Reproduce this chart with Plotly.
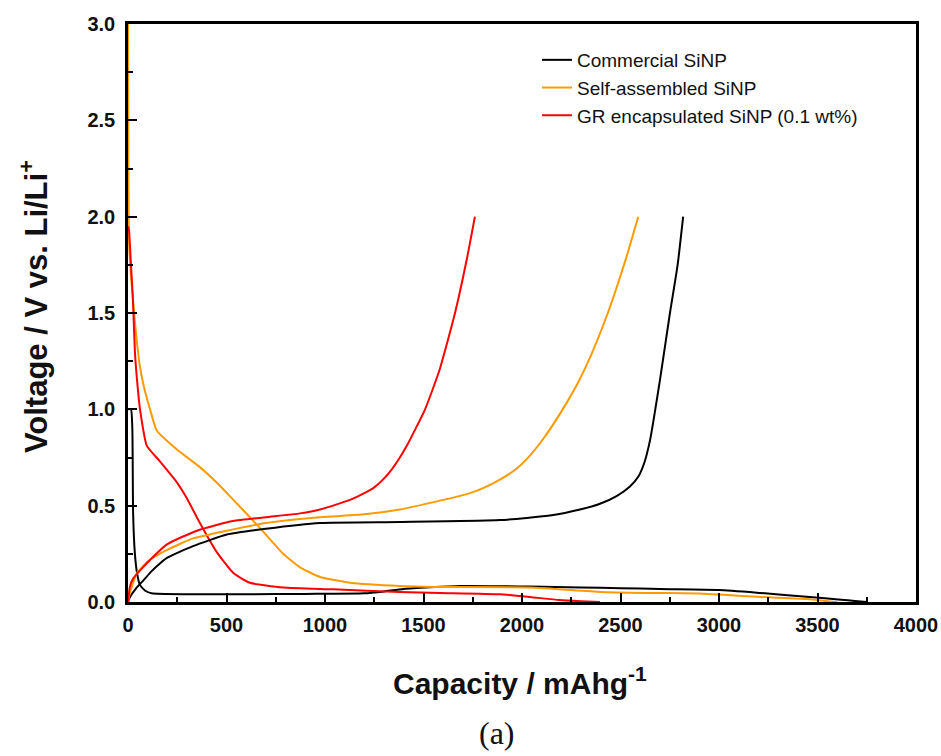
import plotly.graph_objects as go

# ---- data ----
names = ["Commercial SiNP", "Self-assembled SiNP", "GR encapsulated SiNP (0.1 wt%)"]
colors = ["#000000", "#FF9A00", "#FF0000"]

# Commercial SiNP
com_dis_x = [0, 15, 22, 26, 35, 46, 60, 86, 120, 300, 600, 900, 1200, 1300, 1400, 1685, 2040, 2300, 2500, 2700, 3000, 3208, 3460, 3620, 3690, 3750]
com_dis_v = [1.0, 1.0, 0.9, 0.46, 0.25, 0.15, 0.09, 0.06, 0.045, 0.04, 0.04, 0.042, 0.045, 0.055, 0.068, 0.083, 0.08, 0.075, 0.072, 0.067, 0.062, 0.047, 0.026, 0.012, 0.005, 0.0]
com_chg_x = [0, 10, 40, 76, 120, 162, 200, 330, 502, 700, 975, 1380, 1888, 2150, 2294, 2396, 2480, 2548, 2590, 2620, 2650, 2700, 2751, 2790, 2818]
com_chg_v = [0.0, 0.026, 0.07, 0.11, 0.16, 0.2, 0.23, 0.29, 0.35, 0.38, 0.41, 0.415, 0.425, 0.45, 0.48, 0.51, 0.55, 0.6, 0.65, 0.72, 0.84, 1.15, 1.5, 1.75, 2.0]

# Self-assembled SiNP
sa_dis_x = [0, 2, 6, 15, 25, 40, 61, 80, 112, 146, 250, 365, 450, 535, 619, 700, 788, 873, 975, 1041, 1127, 1380, 1548, 2040, 2400, 2650, 2900, 3208, 3450, 3563, 3600]
sa_dis_v = [3.0, 2.2, 1.85, 1.7, 1.57, 1.4, 1.22, 1.12, 1.0, 0.89, 0.79, 0.70, 0.62, 0.53, 0.44, 0.35, 0.25, 0.18, 0.13, 0.115, 0.10, 0.083, 0.078, 0.075, 0.052, 0.047, 0.044, 0.026, 0.015, 0.003, 0.0]
sa_chg_x = [0, 10, 46, 100, 198, 330, 502, 700, 975, 1200, 1380, 1600, 1720, 1800, 1888, 1970, 2040, 2110, 2170, 2230, 2290, 2350, 2410, 2470, 2530, 2590]
sa_chg_v = [0.0, 0.05, 0.15, 0.21, 0.27, 0.33, 0.37, 0.41, 0.44, 0.455, 0.48, 0.53, 0.56, 0.59, 0.635, 0.69, 0.76, 0.85, 0.94, 1.04, 1.15, 1.28, 1.43, 1.6, 1.79, 2.0]

# GR encapsulated SiNP (0.1 wt%)
gr_dis_x = [0, 5, 15, 25, 35, 46, 61, 96, 162, 249, 298, 365, 450, 535, 619, 788, 1041, 1380, 1584, 1888, 2040, 2190, 2300, 2396]
gr_dis_v = [1.95, 1.93, 1.75, 1.57, 1.3, 1.15, 1.0, 0.81, 0.73, 0.62, 0.54, 0.41, 0.26, 0.15, 0.10, 0.075, 0.066, 0.052, 0.047, 0.04, 0.026, 0.01, 0.004, 0.0]
gr_chg_x = [0, 10, 25, 76, 200, 350, 533, 700, 873, 975, 1127, 1200, 1250, 1294, 1340, 1380, 1420, 1460, 1508, 1580, 1660, 1720, 1761]
gr_chg_v = [0.0, 0.08, 0.12, 0.18, 0.3, 0.37, 0.42, 0.44, 0.46, 0.48, 0.53, 0.565, 0.595, 0.635, 0.69, 0.75, 0.82, 0.9, 1.0, 1.2, 1.5, 1.78, 2.0]

x_ticks = [0, 500, 1000, 1500, 2000, 2500, 3000, 3500, 4000]
y_ticks = [0.0, 0.5, 1.0, 1.5, 2.0, 2.5, 3.0]
y_ticktext = ["0.0", "0.5", "1.0", "1.5", "2.0", "2.5", "3.0"]

series = [
    (com_dis_x, com_dis_v, com_chg_x, com_chg_v),
    (sa_dis_x, sa_dis_v, sa_chg_x, sa_chg_v),
    (gr_dis_x, gr_dis_v, gr_chg_x, gr_chg_v),
]

fig = go.Figure()
for i, (dx, dv, cx, cv) in enumerate(series):
    fig.add_trace(go.Scatter(x=dx, y=dv, mode="lines", name=names[i],
                             line=dict(color=colors[i], width=2, shape="spline", smoothing=0.5),
                             showlegend=True))
for i, (dx, dv, cx, cv) in enumerate(series):
    fig.add_trace(go.Scatter(x=cx, y=cv, mode="lines", name=names[i],
                             line=dict(color=colors[i], width=2, shape="spline", smoothing=0.5),
                             showlegend=False))

SANS = "Liberation Sans, Arial"
tickfont_y = dict(family=SANS, size=20, color="#111111", weight="bold")
tickfont_x = dict(family=SANS, size=20, color="#111111", weight="bold")

fig.update_layout(
    width=941, height=756,
    margin=dict(l=128, r=25, t=24, b=154, autoexpand=False),
    paper_bgcolor="white", plot_bgcolor="white",
    showlegend=True,
    legend=dict(x=0.519, y=0.9706, xanchor="left", yanchor="top",
                font=dict(family=SANS, size=19, color="#111111"),
                bgcolor="rgba(0,0,0,0)", borderwidth=0, traceorder="normal"),
    xaxis=dict(range=[0, 4000], tickvals=x_ticks, ticks="inside", ticklen=9, tickwidth=2,
               tickcolor="black", showline=True, linecolor="black", linewidth=2.5, mirror=True,
               showgrid=False, zeroline=False, tickfont=tickfont_x, ticklabelstandoff=3,
               automargin=False,
               minor=dict(dtick=250, ticks="inside", ticklen=5, tickwidth=2, tickcolor="black", showgrid=False)),
    yaxis=dict(range=[0, 3.0], tickvals=y_ticks, ticktext=y_ticktext, ticks="inside", ticklen=9, tickwidth=2,
               tickcolor="black", showline=True, linecolor="black", linewidth=2.5, mirror=True,
               showgrid=False, zeroline=False, tickfont=tickfont_y, ticklabelstandoff=6,
               automargin=False,
               minor=dict(dtick=0.25, ticks="inside", ticklen=5, tickwidth=2, tickcolor="black", showgrid=False)),
    annotations=[
        dict(text="Voltage / V vs. Li/Li<sup>+</sup>", xref="paper", yref="paper", x=-0.1193, y=0.512,
             textangle=-90, showarrow=False, xanchor="center", yanchor="middle",
             font=dict(family=SANS, size=31, color="#111111", weight="bold")),
        dict(text="Capacity / mAhg<sup>-1</sup>", xref="paper", yref="paper", x=0.497, y=-0.137,
             showarrow=False, xanchor="center", yanchor="middle",
             font=dict(family=SANS, size=30, color="#111111", weight="bold")),
        dict(text="(a)", xref="paper", yref="paper", x=0.468, y=-0.2266,
             showarrow=False, xanchor="center", yanchor="middle",
             font=dict(family="Liberation Serif, Times New Roman", size=32, color="#111111")),
    ],
)

fig.write_html("out.html", config={"displayModeBar": False},
               post_script="document.body.style.margin='0px';document.body.style.overflow='hidden';")
